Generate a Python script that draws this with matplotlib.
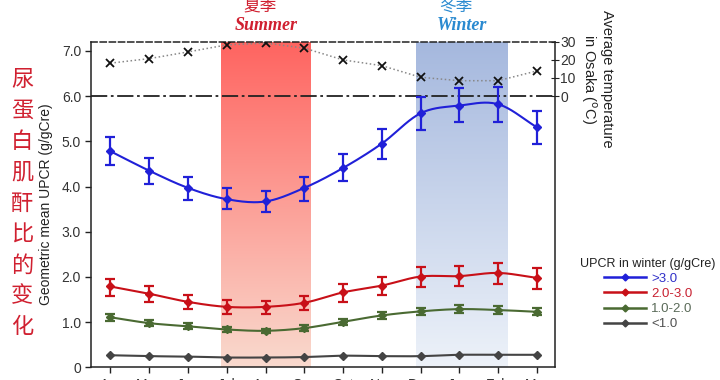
import numpy as np
import matplotlib
matplotlib.use('Agg')
import matplotlib.pyplot as plt
from matplotlib.lines import Line2D

plt.rcParams['font.family'] = ['Liberation Sans', 'DejaVu Sans']

# data
months = ['Apr', 'May', 'Jun', 'Jul', 'Aug', 'Sep', 'Oct', 'Nov', 'Dec', 'Jan', 'Feb', 'Mar']

hi_mean  = [4.78, 4.35, 3.97, 3.72, 3.67, 3.97, 4.41, 4.95, 5.62, 5.79, 5.82, 5.31]
hi_upper = [5.09, 4.64, 4.22, 3.97, 3.91, 4.22, 4.71, 5.27, 5.98, 6.17, 6.20, 5.67]
hi_lower = [4.47, 4.06, 3.71, 3.50, 3.43, 3.69, 4.12, 4.61, 5.24, 5.42, 5.43, 4.94]

mid_mean  = [1.79, 1.63, 1.45, 1.34, 1.34, 1.43, 1.66, 1.81, 2.01, 2.02, 2.09, 1.98]
mid_upper = [1.96, 1.80, 1.60, 1.49, 1.47, 1.58, 1.85, 1.99, 2.23, 2.25, 2.30, 2.21]
mid_lower = [1.59, 1.44, 1.29, 1.19, 1.19, 1.26, 1.45, 1.60, 1.77, 1.79, 1.85, 1.74]

low_mean = [1.11, 0.98, 0.91, 0.84, 0.81, 0.87, 1.01, 1.15, 1.24, 1.29, 1.27, 1.23]
low_err  = [0.08, 0.07, 0.07, 0.05, 0.05, 0.06, 0.07, 0.07, 0.08, 0.09, 0.09, 0.08]

min_mean = [0.27, 0.25, 0.24, 0.22, 0.22, 0.23, 0.26, 0.25, 0.25, 0.28, 0.28, 0.28]

temp_osaka = [18.2, 20.7, 24.4, 28.3, 29.3, 26.5, 20.0, 16.8, 10.4, 8.5, 8.5, 13.9]

group_labels = ['>3.0', '2.0-3.0', '1.0-2.0', '<1.0']
group_colors = ['#2020d8', '#c81018', '#4a6a32', '#444444']
label_colors = ['#3030c8', '#c82030', '#5a6a58', '#505050']


def smooth(xs, ys, n=20):
    # catmull-rom curve through the points, only for drawing the line
    xs = np.asarray(xs, float)
    ys = np.asarray(ys, float)
    px = np.concatenate([[2 * xs[0] - xs[1]], xs, [2 * xs[-1] - xs[-2]]])
    py = np.concatenate([[2 * ys[0] - ys[1]], ys, [2 * ys[-1] - ys[-2]]])
    t = np.linspace(0, 1, n, endpoint=False)
    cx, cy = [], []
    for i in range(1, len(px) - 2):
        for p, out in ((px, cx), (py, cy)):
            p0, p1, p2, p3 = p[i - 1], p[i], p[i + 1], p[i + 2]
            out.append(0.5 * (2 * p1 + (-p0 + p2) * t
                              + (2 * p0 - 5 * p1 + 4 * p2 - p3) * t ** 2
                              + (-p0 + 3 * p1 - 3 * p2 + p3) * t ** 3))
    cx.append([xs[-1]])
    cy.append([ys[-1]])
    return np.concatenate(cx), np.concatenate(cy)


fig = plt.figure(figsize=(7.2, 3.8), dpi=100)
ax = fig.add_axes([0.127, 0.033, 0.6435, 0.857])
x = np.arange(len(months))
ymax = 7.2

# season bands with vertical gradients
def band(x0, x1, top, bottom):
    top = np.array(matplotlib.colors.to_rgb(top))
    bottom = np.array(matplotlib.colors.to_rgb(bottom))
    f = np.linspace(0, 1, 256)[:, None]
    img = (top * (1 - f) + bottom * f)[:, None, :]
    ax.imshow(img, extent=(x0, x1, 0, ymax), aspect='auto', zorder=0,
              interpolation='bicubic')

band(2.86, 5.18, '#ff6460', '#f9dace')
band(7.87, 10.24, '#a5b8de', '#edf2f9')

# UPCR groups
means = [hi_mean, mid_mean, low_mean, min_mean]
for i, m in enumerate(means):
    c = group_colors[i]
    sx, sy = smooth(x, m)
    ax.plot(sx, sy, color=c, lw=1.5, zorder=3)
    if i == 0:
        yerr = [np.subtract(m, hi_lower), np.subtract(hi_upper, m)]
    elif i == 1:
        yerr = [np.subtract(m, mid_lower), np.subtract(mid_upper, m)]
    elif i == 2:
        yerr = low_err
    else:
        yerr = None
    ax.errorbar(x, m, yerr=yerr, fmt='D', ms=4.5, color=c, ecolor=c,
                elinewidth=1.6, capsize=3.5, capthick=1.6, zorder=4)

ax.axhline(6.0, color='#222222', lw=1.3, ls=(0, (9, 2, 1.5, 2)), zorder=2)

ax.set_xlim(-0.49, 11.46)
ax.set_ylim(0, ymax)
ax.set_xticks(x)
ax.set_xticklabels(months)
ax.set_yticks(np.arange(0, 8, 1.0))
ax.set_yticklabels(['0'] + [f'{v:.1f}' for v in np.arange(1, 8, 1.0)])
ax.tick_params(axis='both', labelsize=10, colors='#222222', labelcolor='#333333',
               length=4, width=1)
ax.spines['top'].set_linestyle((0, (4, 2)))
for s in ax.spines.values():
    s.set_color('#222222')
    s.set_linewidth(1.1)
ax.set_ylabel('Geometric mean UPCR (g/gCre)', fontsize=10, color='#222222',
              labelpad=6)

# temperature on the twin axis
ax2 = ax.twinx()
ax2.set_ylim(-150, 30)
ax2.plot(x, temp_osaka, ls=':', color='#888888', lw=1.1, marker='x',
         ms=6, mec='#111111', mew=1.3, zorder=5)
ax2.set_yticks([0, 10, 20, 30])
ax2.tick_params(axis='y', direction='inout', length=6, labelsize=10,
                colors='#222222', labelcolor='#333333', pad=1)
for s in ax2.spines.values():
    s.set_visible(False)
ax2.set_xlim(ax.get_xlim())

fig.text(0.828, 0.792, 'Average temperature\nin Osaka ($^{\\mathrm{o}}$C)',
         rotation=-90, ha='center', va='center', fontsize=10.5,
         color='#222222', multialignment='center', linespacing=1.1)

# season titles
cjk = ['Noto Sans CJK SC', 'DejaVu Sans']
fig.text(260 / 720, 1 - 6 / 380, '夏季', family=cjk, fontsize=12,
         color='#d02030', ha='center', va='center')
fig.text(266 / 720, 1 - 25 / 380, 'Summer', family='Liberation Serif',
         fontsize=13, weight='bold', style='italic', color='#d02030',
         ha='center', va='center')
fig.text(456 / 720, 1 - 6 / 380, '冬季', family=cjk, fontsize=12,
         color='#2a8ad0', ha='center', va='center')
fig.text(462 / 720, 1 - 25 / 380, 'Winter', family='Liberation Serif',
         fontsize=13, weight='bold', style='italic', color='#2a8ad0',
         ha='center', va='center')

# vertical chinese caption on the left
fig.text(22 / 720, 1 - 203 / 380, '\n'.join('尿蛋白肌酐比的变化'), family=cjk,
         fontsize=16, color='#d02030', ha='center', va='center',
         linespacing=1.44)

# legend
handles = [Line2D([], [], color=c, lw=1.8, marker='D', ms=3.5)
           for c in group_colors]
leg = fig.legend(handles, group_labels, title='UPCR in winter (g/gCre)',
                 loc='center', bbox_to_anchor=(648 / 720, 1 - 294 / 380),
                 frameon=False, fontsize=9.5, title_fontsize=9,
                 handlelength=3.2, handletextpad=0.4, labelspacing=0.22,
                 alignment='center', numpoints=1)
for t, c in zip(leg.get_texts(), label_colors):
    t.set_color(c)
leg.get_title().set_color('#222222')

fig.savefig('out.png', dpi=100)
